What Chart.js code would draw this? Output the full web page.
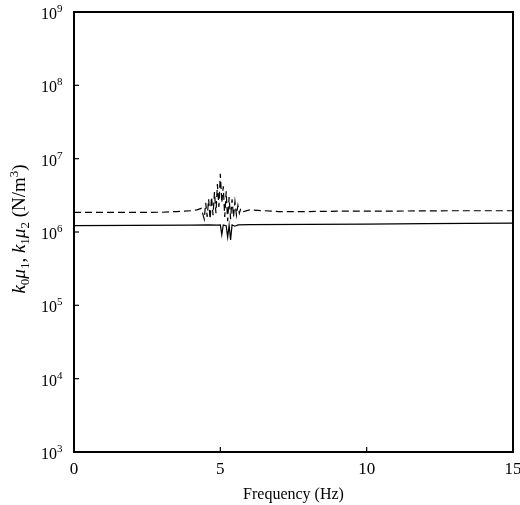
<!DOCTYPE html>
<html>
<head>
<meta charset="utf-8">
<script src="https://cdn.jsdelivr.net/npm/chart.js@4/dist/chart.umd.min.js"></script>
<style>
  html, body { margin: 0; padding: 0; background: #fff; }
  #wrap { width: 520px; height: 505px; }
</style>
</head>
<body>
<div id="wrap"><canvas id="chart" width="520" height="505"></canvas></div>
<script>
/* ================================
   Data
================================ */
const dashedFreq = [0, 1, 2, 3, 3.5, 4, 4.2, 4.35, 4.45, 4.5, 4.55, 4.6, 4.65, 4.7, 4.75, 4.8, 4.85, 4.9, 4.95,
  5.0, 5.05, 5.1, 5.15, 5.2, 5.25, 5.3, 5.35, 5.4, 5.45, 5.5, 5.55, 5.6, 5.65, 5.7, 5.8, 6.0, 6.5, 7, 8, 9, 10, 11, 12, 13, 14, 15];
const dashedVals = [1.85e6, 1.85e6, 1.85e6, 1.86e6, 1.9e6, 1.95e6, 2.0e6, 2.1e6, 1.5e6, 2.5e6, 1.6e6, 2.8e6, 1.5e6, 3.0e6, 1.7e6, 3.5e6, 1.8e6, 4.5e6, 2.2e6,
  6.2e6, 2.5e6, 4.2e6, 1.6e6, 3.6e6, 1.4e6, 3.0e6, 1.5e6, 2.8e6, 1.6e6, 2.6e6, 1.7e6, 2.3e6, 1.8e6, 2.1e6, 1.9e6, 2.0e6, 1.95e6, 1.9e6, 1.9e6, 1.92e6, 1.93e6, 1.93e6, 1.94e6, 1.95e6, 1.95e6, 1.95e6];

const solidFreq = [0, 2, 4, 4.6, 4.9, 5.0, 5.05, 5.1, 5.2, 5.25, 5.3, 5.35, 5.4, 5.5, 5.6, 6, 8, 10, 12, 15];
const solidVals = [1.22e6, 1.23e6, 1.24e6, 1.25e6, 1.24e6, 1.25e6, 0.92e6, 1.25e6, 1.22e6, 0.85e6, 1.24e6, 0.78e6, 1.25e6, 1.2e6, 1.25e6, 1.26e6, 1.27e6, 1.28e6, 1.3e6, 1.32e6];

const xTicks = [0, 5, 10, 15];
const yExponents = [3, 4, 5, 6, 7, 8, 9];

const SERIF = '"Liberation Serif", "Times New Roman", serif';

/* ================================
   Axes, ticks, labels (drawn on top)
================================ */
const framePlugin = {
  id: 'frame',
  afterDraw(chart) {
    const { ctx, chartArea: a, scales: { x, y } } = chart;
    ctx.save();
    ctx.strokeStyle = '#000';
    ctx.fillStyle = '#000';

    // frame
    ctx.lineWidth = 2;
    ctx.strokeRect(a.left, a.top, a.right - a.left, a.bottom - a.top);

    // inward tick marks
    ctx.lineWidth = 1.2;
    xTicks.forEach(v => {
      const px = x.getPixelForValue(v);
      ctx.beginPath();
      ctx.moveTo(px, a.bottom);
      ctx.lineTo(px, a.bottom - 5);
      ctx.stroke();
    });
    yExponents.forEach(e => {
      const py = y.getPixelForValue(Math.pow(10, e));
      ctx.beginPath();
      ctx.moveTo(a.left, py);
      ctx.lineTo(a.left + 5, py);
      ctx.stroke();
    });

    // x tick labels
    ctx.font = '17px ' + SERIF;
    ctx.textAlign = 'center';
    ctx.textBaseline = 'alphabetic';
    xTicks.forEach(v => {
      ctx.fillText(String(v), x.getPixelForValue(v), a.bottom + 22);
    });

    // y tick labels: 10 with superscript exponent
    yExponents.forEach(e => {
      const py = y.getPixelForValue(Math.pow(10, e));
      ctx.font = '16px ' + SERIF;
      ctx.textAlign = 'right';
      ctx.fillText('10', a.left - 17, py + 7);
      ctx.font = '11px ' + SERIF;
      ctx.textAlign = 'left';
      ctx.fillText(String(e), a.left - 17, py);
    });

    // x title
    ctx.font = '16px ' + SERIF;
    ctx.textAlign = 'center';
    ctx.fillText('Frequency (Hz)', (a.left + a.right) / 2, a.bottom + 47);

    // y title, rotated, with italic symbols and subscripts
    const parts = [
      { t: 'k', f: 'italic 19px', dy: 0 },
      { t: '0', f: '13px', dy: 4 },
      { t: 'μ', f: 'italic 19px', dy: 0 },
      { t: '1', f: '13px', dy: 4 },
      { t: ', ', f: '19px', dy: 0 },
      { t: 'k', f: 'italic 19px', dy: 0 },
      { t: '1', f: '13px', dy: 4 },
      { t: 'μ', f: 'italic 19px', dy: 0 },
      { t: '2', f: '13px', dy: 4 },
      { t: ' (N/m', f: '19px', dy: 0 },
      { t: '3', f: '13px', dy: -7 },
      { t: ')', f: '19px', dy: 0 }
    ];
    let total = 0;
    parts.forEach(p => {
      ctx.font = p.f + ' ' + SERIF;
      p.w = ctx.measureText(p.t).width;
      total += p.w;
    });
    ctx.translate(25, 229);
    ctx.rotate(-Math.PI / 2);
    ctx.textAlign = 'left';
    let cx = -total / 2;
    parts.forEach(p => {
      ctx.font = p.f + ' ' + SERIF;
      ctx.fillText(p.t, cx, p.dy);
      cx += p.w;
    });
    ctx.restore();
  }
};

/* ================================
   Chart
================================ */
new Chart(document.getElementById('chart').getContext('2d'), {
  type: 'line',
  data: {
    datasets: [
      {
        label: 'k1 mu2',
        data: dashedFreq.map((f, i) => ({ x: f, y: dashedVals[i] })),
        borderColor: '#000',
        borderWidth: 1.2,
        borderDash: [7, 4],
        pointRadius: 0,
        tension: 0,
        fill: false
      },
      {
        label: 'k0 mu1',
        data: solidFreq.map((f, i) => ({ x: f, y: solidVals[i] })),
        borderColor: '#000',
        borderWidth: 1.2,
        pointRadius: 0,
        tension: 0,
        fill: false
      }
    ]
  },
  options: {
    responsive: false,
    animation: false,
    layout: { padding: { left: 74, right: 7, top: 12, bottom: 53 } },
    plugins: {
      legend: { display: false },
      tooltip: { enabled: false }
    },
    scales: {
      x: { type: 'linear', min: 0, max: 15, display: false },
      y: { type: 'logarithmic', min: 1e3, max: 1e9, display: false }
    }
  },
  plugins: [framePlugin]
});
</script>
</body>
</html>
